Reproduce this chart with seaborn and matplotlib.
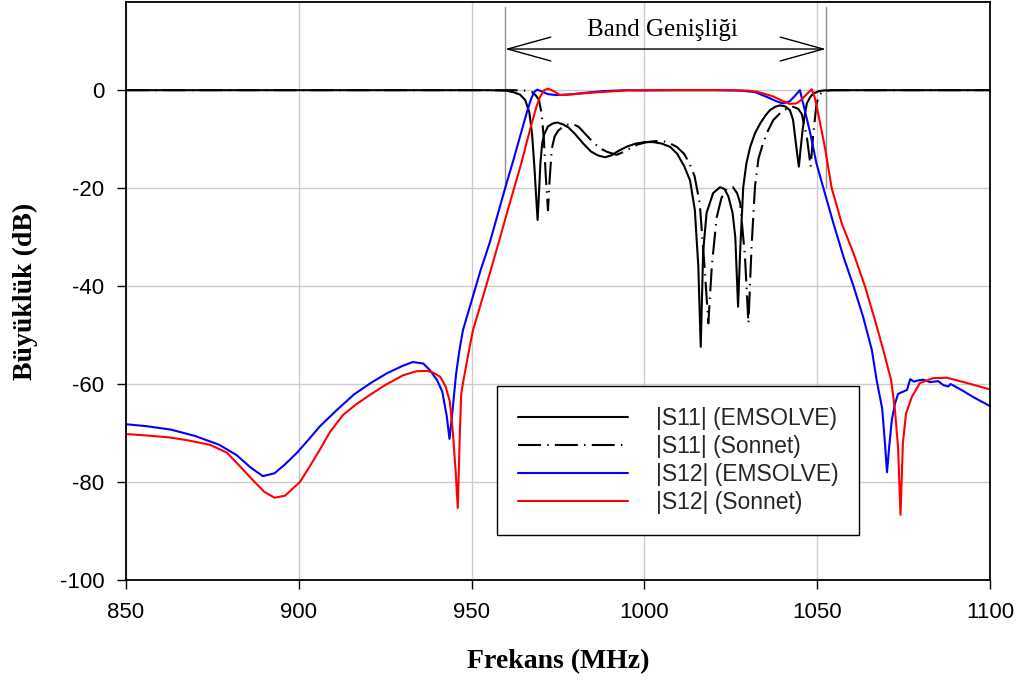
import numpy as np
import pandas as pd
import matplotlib
matplotlib.use("Agg")
import matplotlib.pyplot as plt
import seaborn as sns

# |S11| EMSOLVE
f_s11_em = [850, 955, 960, 962, 964, 965.5, 966.7, 967.5, 968.2, 968.7, 969.1, 969.5,
            969.9, 970.4, 971, 972.1, 973.5, 974.8, 976.5, 978, 980, 982.3, 984.5,
            986.5, 988.6, 990.5, 992.5, 995, 997.5, 1000, 1002.5, 1005, 1007.5,
            1009.5, 1011.5, 1013.2, 1014.6, 1015.6, 1016.3, 1017, 1018, 1019.9,
            1021.9, 1023.2, 1024.3, 1025.5, 1026.3, 1027.1, 1027.7, 1028.6, 1029.5,
            1030.6, 1032, 1033.5, 1035, 1036.3, 1037.8, 1039.2, 1040.7, 1042.1,
            1043, 1043.6, 1044.2, 1044.7, 1045.2, 1045.8, 1046.4, 1047, 1048,
            1048.8, 1050.5, 1052, 1055, 1100]
db_s11_em = [0, 0, -0.1, -0.4, -0.9, -2, -4.5, -9, -16, -22, -26.5, -21,
             -15, -11, -9, -7.4, -6.8, -6.6, -7, -7.6, -9, -10.9, -12.5,
             -13.3, -13.7, -13.3, -12.4, -11.5, -10.9, -10.6, -10.6, -10.9, -11.6,
             -13, -15.5, -18.4, -24.5, -36, -52.4, -33, -25, -21,
             -19.8, -20.2, -21.7, -25, -30, -44.2, -33, -19.8, -15,
             -11.6, -8.8, -6.8, -5.2, -4.1, -3.4, -3.1, -3.3, -4.1,
             -6, -9.5, -13, -15.6, -12, -8, -5, -2.7, -1.4,
             -0.7, -0.2, -0.05, 0, 0]

# |S11| Sonnet
f_s11_so = [850, 962, 966, 967.5, 968.5, 969.5, 970.3, 970.9, 971.5, 972.1, 972.6,
            973.2, 974, 975, 976.4, 978, 979.3, 981, 984.3, 987, 989.2, 992, 994,
            995.8, 998, 1000.7, 1003, 1005.4, 1007.5, 1009.4, 1011.5, 1013, 1014.5,
            1016, 1017.5, 1018.5, 1019.5, 1020.9, 1022.3, 1023.8, 1025.6, 1026.8,
            1027.7, 1029.1, 1030.1, 1031, 1032, 1033, 1034.3, 1035.8, 1037.3,
            1040.1, 1043, 1044.5, 1045.5, 1047, 1048.1, 1048.8, 1049.8, 1050.8,
            1051.7, 1054, 1100]
db_s11_so = [0, 0, -0.1, -0.4, -1, -2, -5, -10, -18, -24.5, -18,
             -12, -9.5, -8.3, -7.5, -7, -6.9, -7.5, -10, -11.8, -12.6, -13.2, -12.6,
             -11.9, -11.1, -10.6, -10.4, -10.4, -10.9, -11.6, -13, -14.9, -17.5,
             -23, -37, -47.6, -36, -26, -22, -20.2, -19.8, -21,
             -23, -34, -47.6, -32, -19.7, -14, -10.9, -8.2, -6.1,
             -4.1, -3.4, -3.8, -4.8, -9.5, -15.6, -9.5, -2.7, -0.8,
             -0.3, 0, 0]

# |S12| EMSOLVE
f_s12_em = [850, 856, 863, 870, 877, 882, 886, 889.6, 893, 896, 899.5, 903, 906, 911,
            916, 921, 925.5, 930, 933, 936, 938, 940, 941.5, 942.8, 943.6, 944.4,
            945.5, 946.5, 947.5, 950, 952.5, 955.3, 957.5, 959.7, 962, 964, 966,
            967.2, 968.2, 969, 970.5, 972, 974.5, 978, 982, 988, 995, 1000, 1010,
            1020, 1028, 1032, 1035.5, 1038, 1040, 1042, 1043.5, 1045, 1046.2, 1047.9,
            1049.8, 1051.8, 1054.7, 1057.6, 1060.5, 1063.3, 1065.8, 1067.2, 1068.8,
            1069.6, 1070.2, 1070.8, 1071.6, 1072.5, 1073.4, 1075, 1076, 1076.9,
            1078, 1078.9, 1080.7, 1082.6, 1085, 1086.5, 1087.9, 1088.6, 1089.4,
            1092, 1095, 1100]
db_s12_em = [-68.2, -68.6, -69.3, -70.6, -72.4, -74.5, -77, -78.8, -78.2, -76.4, -74,
             -71.2, -68.7, -65.3, -62.1, -59.7, -57.8, -56.3, -55.5, -55.8, -57.2,
             -59.2, -61.5, -66.5, -71.2, -66, -58, -53, -49, -43, -37, -31, -25.5,
             -20, -14.5, -9.5, -4.5, -1.8, -0.3, 0.1, -0.3, -0.8, -1.0, -0.9, -0.6,
             -0.2, 0, -0.05, 0, 0, -0.1, -0.4, -1.4, -2.2, -2.7, -2.3, -1.2, 0, -3.5,
             -8.5, -15, -20, -27.2, -34, -40, -46.3, -53, -59.2, -65,
             -72, -78, -73, -67.3, -64, -62, -61.5, -61.2, -59, -59.5, -59.3, -59.1,
             -59.6, -59.4, -60.2, -60.5, -60, -60.3, -61.3, -62.6, -64.5]

# |S12| Sonnet
f_s12_so = [850, 856, 862.7, 868, 874.3, 879.2, 883, 886.7, 890, 893, 896, 900.3, 903,
            906, 909, 912.8, 916.5, 920.6, 925, 930.2, 934, 937.1, 939, 940.9, 942.5,
            943.7, 944.6, 945.4, 946, 946.6, 947, 947.5, 949, 950.4, 952.8, 955.3,
            958, 960.5, 962.3, 964.5, 966, 967.4, 968.7, 969.8, 971, 972.1, 973.5,
            975.6, 978, 985, 995, 1010, 1025, 1030, 1032.6, 1035, 1037.3, 1040,
            1042, 1044, 1045, 1047, 1048.4, 1049.3, 1050.3, 1052.2, 1054.2, 1057.1,
            1060.5, 1063.8, 1066.7, 1069.1, 1071.4, 1072.5,
            1073.4, 1074.1, 1074.8, 1075.7, 1077.4, 1079.7, 1083.5, 1087.5, 1091.3,
            1095, 1100]
db_s12_so = [-70.2, -70.5, -70.9, -71.5, -72.4, -74, -76.8, -79.6, -82, -83.2, -82.8,
             -80, -77, -73.5, -69.8, -66.3, -64.2, -62.2, -60.2, -58.2, -57.4, -57.3,
             -57.7, -58.5, -60.5, -63.6, -70, -78, -85.3, -70, -62, -59.8, -54, -49,
             -43.3, -37.3, -30.7, -24.4, -20, -14.6, -10.5, -6.8, -3.5, -1.4, 0, 0.3,
             -0.1, -1.0, -0.9, -0.5, -0.05, 0, 0, -0.1, -0.3, -0.8, -1.3, -2.2, -2.8,
             -2.7, -2.2, -0.8, 0.2, -1.5, -4.8, -11.6, -20, -27.2,
             -33.3, -40, -46.9, -53, -59.2, -65.3,
             -73, -86.7, -72, -66, -62.6, -59.8, -58.8, -58.7, -59.4, -60.1, -61.1]

series_labels = ["|S11| (EMSOLVE)", "|S11| (Sonnet)", "|S12| (EMSOLVE)", "|S12| (Sonnet)"]
x_ticks = [850, 900, 950, 1000, 1050, 1100]
y_ticks = [-100, -80, -60, -40, -20, 0]
band_edges = [959.7, 1052.5]
band_label = "Band Genişliği"

sns.set_theme(style="white")
plt.rcParams["axes.unicode_minus"] = False
plt.rcParams["font.family"] = ["Liberation Sans", "DejaVu Sans"]

fig = plt.figure(figsize=(10.19, 6.84), dpi=100)
ax = fig.add_axes([126 / 1019, 1 - 580 / 684, 864 / 1019, 578 / 684])

frames = [
    (f_s11_em, db_s11_em, "black", "-"),
    (f_s11_so, db_s11_so, "black", (0, (11, 3, 0.7, 3))),
    (f_s12_em, db_s12_em, "#0000ff", "-"),
    (f_s12_so, db_s12_so, "#ff0000", "-"),
]
for (fx, dy, col, ls), lab in zip(frames, series_labels):
    df = pd.DataFrame({"f": fx, "db": dy})
    sns.lineplot(data=df, x="f", y="db", ax=ax, color=col, linestyle=ls,
                 linewidth=1.5, estimator=None, sort=False, label=lab)

ax.set_xlim(850, 1100)
ax.set_ylim(-100, 18)
ax.set_xticks(x_ticks)
ax.set_yticks(y_ticks)
ax.tick_params(axis="both", which="major", direction="out", length=6.5, width=1,
               color="black", labelsize=16, pad=9, labelcolor="black")
ax.tick_params(bottom=True, left=True, top=False, right=False)
ax.grid(True, color="#cccccc", linewidth=1)
ax.set_axisbelow(True)
for sp in ax.spines.values():
    sp.set_visible(True)
    sp.set_color("black")
    sp.set_linewidth(1.3)

# bandwidth markers
for fb in band_edges:
    ax.plot([fb, fb], [-20, 17], color="#909090", linewidth=1, zorder=1.5)
ax.annotate("", xy=(band_edges[0], 8.4), xytext=(band_edges[1], 8.4),
            arrowprops=dict(arrowstyle="<->,head_length=3.1,head_width=0.86",
                            color="black", linewidth=1, mutation_scale=10,
                            shrinkA=0, shrinkB=0))
ax.text(sum(band_edges) / 2 - 1, 12.3, band_label, ha="center", va="center",
        fontsize=18, family="Liberation Serif", color="black")

ax.set_xlabel("Frekans (MHz)", fontsize=20, fontweight="bold",
              family="Liberation Serif", color="black")
ax.set_ylabel("Büyüklük (dB)", fontsize=20, fontweight="bold",
              family="Liberation Serif", color="black")
ax.xaxis.label.set_va("center")
ax.yaxis.label.set_va("center")
ax.xaxis.set_label_coords(0.5, (580 - 662) / 578)
ax.yaxis.set_label_coords((25 - 126) / 864, 0.5)

leg = ax.legend(loc="upper left", bbox_to_anchor=((497 - 126) / 864, (580 - 386) / 578),
                fontsize=16.5, frameon=True, fancybox=False, framealpha=1,
                edgecolor="black", handlelength=4.8, handletextpad=1.22,
                labelspacing=0.23, borderpad=0.9, borderaxespad=0)
leg.get_frame().set_linewidth(1)

fig.savefig("out.png", dpi=100)
